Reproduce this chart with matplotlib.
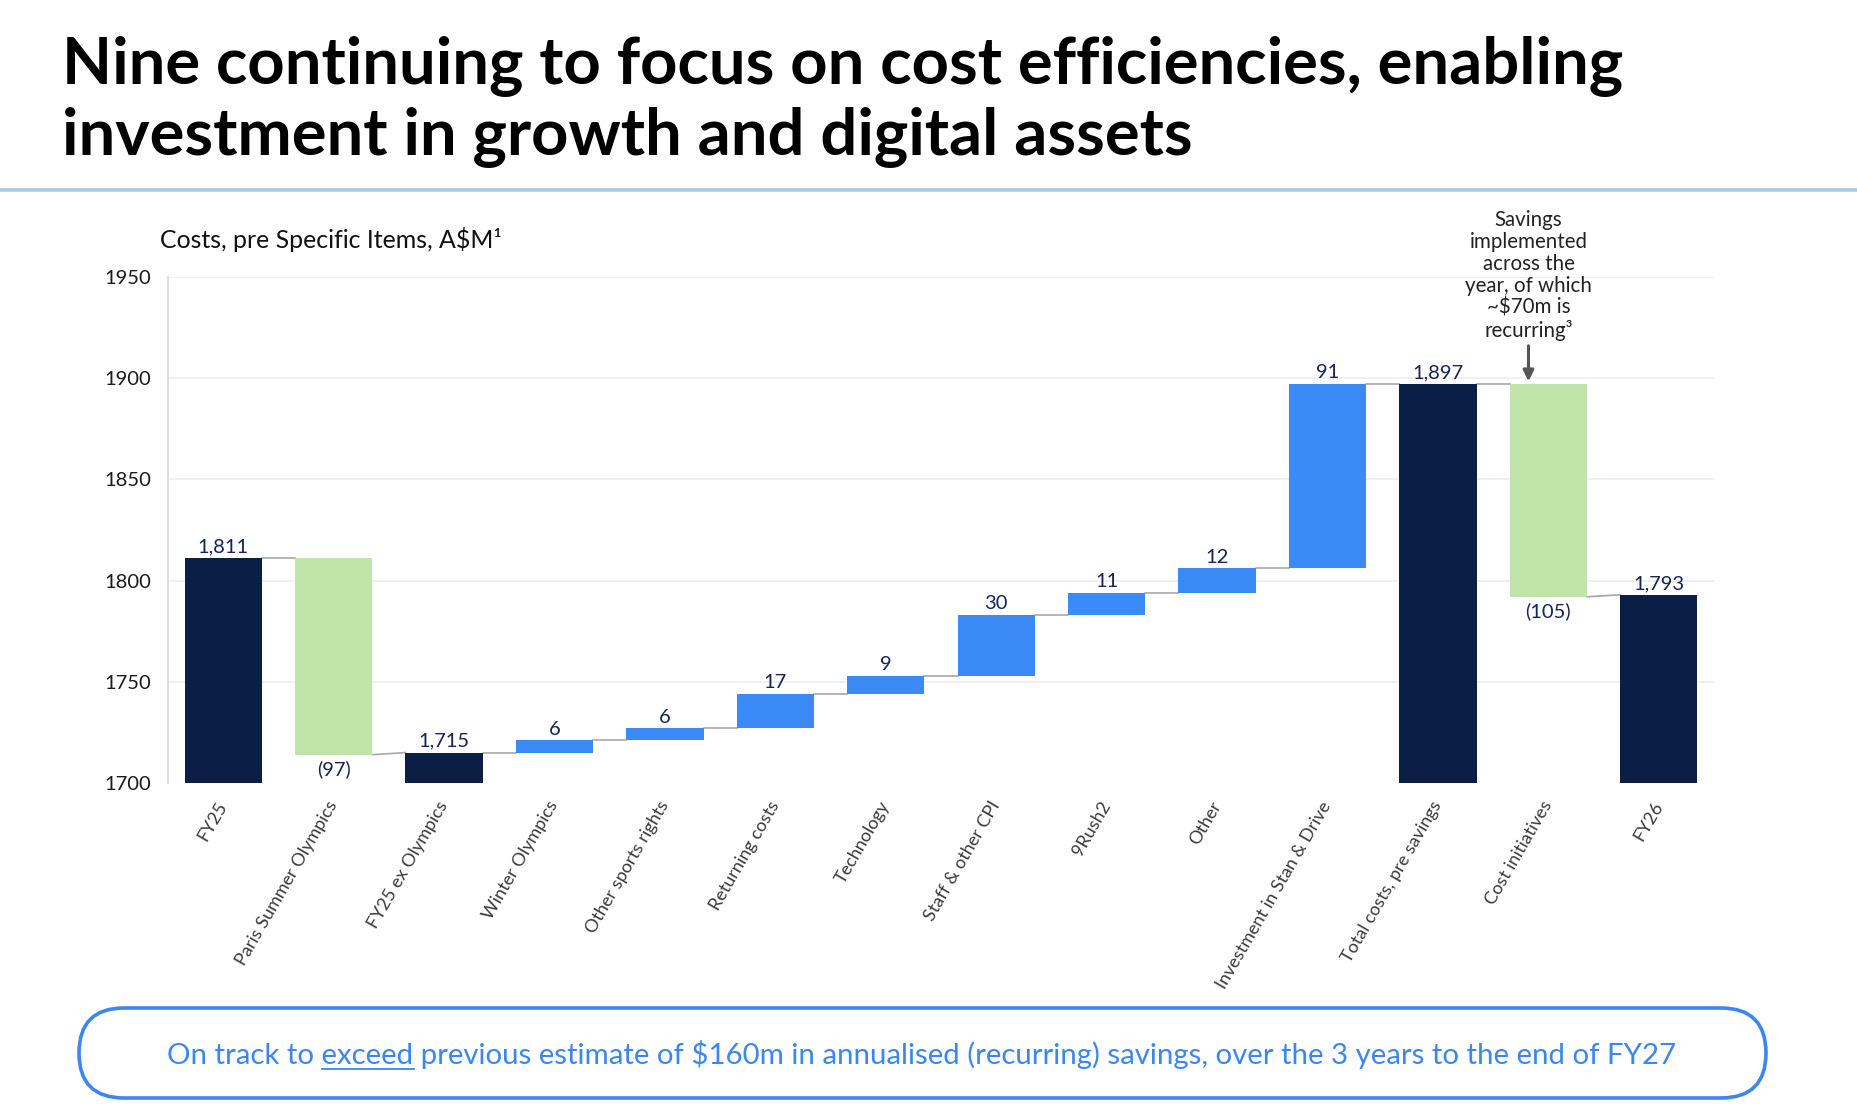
import matplotlib
matplotlib.use('Agg')
import matplotlib.pyplot as plt
from matplotlib.patches import FancyBboxPatch

# ---------------- data ----------------
categories = ['FY25', 'Paris Summer Olympics', 'FY25 ex Olympics', 'Winter Olympics',
              'Other sports rights', 'Returning costs', 'Technology', 'Staff & other CPI',
              '9Rush2', 'Other', 'Investment in Stan & Drive', 'Total costs, pre savings',
              'Cost initiatives', 'FY26']
bar_types = ['total', 'delta', 'total', 'delta', 'delta', 'delta', 'delta', 'delta',
             'delta', 'delta', 'delta', 'total', 'delta', 'total']
values = [1811, -97, 1715, 6, 6, 17, 9, 30, 11, 12, 91, 1897, -105, 1793]
value_labels = ['1,811', '(97)', '1,715', '6', '6', '17', '9', '30', '11', '12', '91',
                '1,897', '(105)', '1,793']
y_ticks = [1700, 1750, 1800, 1850, 1900, 1950]

title_lines = ['Nine continuing to focus on cost efficiencies, enabling',
               'investment in growth and digital assets']
y_title = 'Costs, pre Specific Items, A$M\u00b9'
annotation = 'Savings\nimplemented\nacross the\nyear, of which\n~$70m is\nrecurring\u00b3'
footer_pre = 'On track to '
footer_u = 'exceed'
footer_post = ' previous estimate of $160m in annualised (recurring) savings, over the 3 years to the end of FY27'

# ---------------- style ----------------
NAVY = '#0a1e46'
BLUE = '#3c8af5'
GREEN = '#c1e4a9'
LABEL = '#14245a'
CONN = '#a8a8a8'
FOOT = '#3b86f3'

plt.rcParams['font.family'] = ['Lato', 'DejaVu Sans']

W, H = 1858, 1116
fig = plt.figure(figsize=(W / 100, H / 100), dpi=100)
fig.patch.set_facecolor('white')

# overlay in pixel coordinates
bg = fig.add_axes([0, 0, 1, 1], zorder=0)
bg.set_xlim(0, W)
bg.set_ylim(H, 0)
bg.axis('off')

renderer = fig.canvas.get_renderer()


def fit(t, target):
    w = t.get_window_extent(renderer).width
    t.set_fontsize(t.get_fontsize() * target / w)
    return t.get_fontsize()


# title
t1 = bg.text(62, 84, title_lines[0], fontsize=40, fontweight='bold', color='black',
             ha='left', va='baseline')
fs = fit(t1, 1559)
bg.text(62, 155, title_lines[1], fontsize=fs, fontweight='bold', color='black',
        ha='left', va='baseline')

# separator
bg.plot([0, W], [190, 190], color='#a9cbec', lw=2.6, solid_capstyle='butt')

# y-axis title
yt = bg.text(160, 248, y_title, fontsize=15, color='#111111', ha='left', va='baseline')
fit(yt, 342)

# footer box
box = FancyBboxPatch((79, 1008), 1766 - 79, 90,
                     boxstyle='round,pad=0,rounding_size=45',
                     facecolor='white', edgecolor=FOOT, lw=2.6)
bg.add_patch(box)
full = footer_pre + footer_u + footer_post
ft = bg.text(0, 1064, full, fontsize=18, color=FOOT, ha='left', va='baseline')
ffs = fit(ft, 1505)
total_w = ft.get_window_extent(renderer).width
x0 = 922 - total_w / 2
ft.set_x(x0)
tmp = bg.text(0, 0, footer_pre + footer_u, fontsize=ffs)
w_pre_u = tmp.get_window_extent(renderer).width
tmp.remove()
tmp = bg.text(0, 0, footer_u, fontsize=ffs)
w_u = tmp.get_window_extent(renderer).width
tmp.remove()
bg.plot([x0 + w_pre_u - w_u, x0 + w_pre_u], [1069, 1069], color=FOOT, lw=1.3)

# ---------------- main chart ----------------
ax = fig.add_axes([168 / W, 1 - 783 / H, (1714 - 168) / W, (783 - 277) / H], zorder=2)
ax.set_facecolor('none')

starts, ends = [], []
run = 0
for t, v in zip(bar_types, values):
    if t == 'total':
        s = e = v
        run = v
    else:
        s = run
        e = run + v
        run = e
    starts.append(s)
    ends.append(e)

bw = 0.70
for i, (t, v) in enumerate(zip(bar_types, values)):
    if t == 'total':
        ax.bar(i, v, bottom=0, width=bw, color=NAVY, zorder=3)
        top = v
        ax.annotate(value_labels[i], (i, top), xytext=(0, 2), textcoords='offset points',
                    ha='center', va='bottom', fontsize=14.5, color=LABEL)
    else:
        lo, hi = min(starts[i], ends[i]), max(starts[i], ends[i])
        ax.bar(i, hi - lo, bottom=lo, width=bw, color=BLUE if v > 0 else GREEN, zorder=3)
        if v > 0:
            ax.annotate(value_labels[i], (i, hi), xytext=(0, 2), textcoords='offset points',
                        ha='center', va='bottom', fontsize=14.5, color=LABEL)
        else:
            ax.annotate(value_labels[i], (i, lo), xytext=(0, -4), textcoords='offset points',
                        ha='center', va='top', fontsize=14.5, color=LABEL)

for i in range(len(values) - 1):
    ax.plot([i + bw / 2, i + 1 - bw / 2], [ends[i], starts[i + 1]], color=CONN, lw=1.2, zorder=2)

ax.set_xlim(-0.5, 13.5)
ax.set_ylim(1700, 1950)
ax.set_yticks(y_ticks)
ax.set_yticklabels([str(v) for v in y_ticks])
ax.tick_params(axis='y', length=0, pad=12, labelsize=14.5, labelcolor='#1a1a1a')
ax.set_xticks(range(len(categories)))
ax.set_xticklabels(categories, rotation=60, ha='right', va='center',
                   rotation_mode='anchor', fontsize=13, fontweight='normal', color='#3a3a3a')
ax.tick_params(axis='x', length=0, pad=14)

for sp in ['top', 'right', 'bottom']:
    ax.spines[sp].set_visible(False)
ax.spines['left'].set_color('#d9d9d9')
ax.spines['left'].set_linewidth(1.2)

ax.set_axisbelow(True)
ax.yaxis.grid(True, color='#eeeeee', lw=1.2)
ax.get_ygridlines()[0].set_visible(False)

# annotation with arrow
ax_x = 11.82
ax.annotate('', xy=(ax_x, 1898.5), xytext=(ax_x, 1916),
            arrowprops=dict(arrowstyle='-|>', color='#555555', lw=2.2, mutation_scale=16,
                            shrinkA=0, shrinkB=0), zorder=5)
ax.text(ax_x, 1918.5, annotation, ha='center', va='bottom', fontsize=14.8, color='#222222',
        linespacing=1.12, clip_on=False, zorder=5)

fig.savefig('out.png', dpi=100, facecolor='white')
